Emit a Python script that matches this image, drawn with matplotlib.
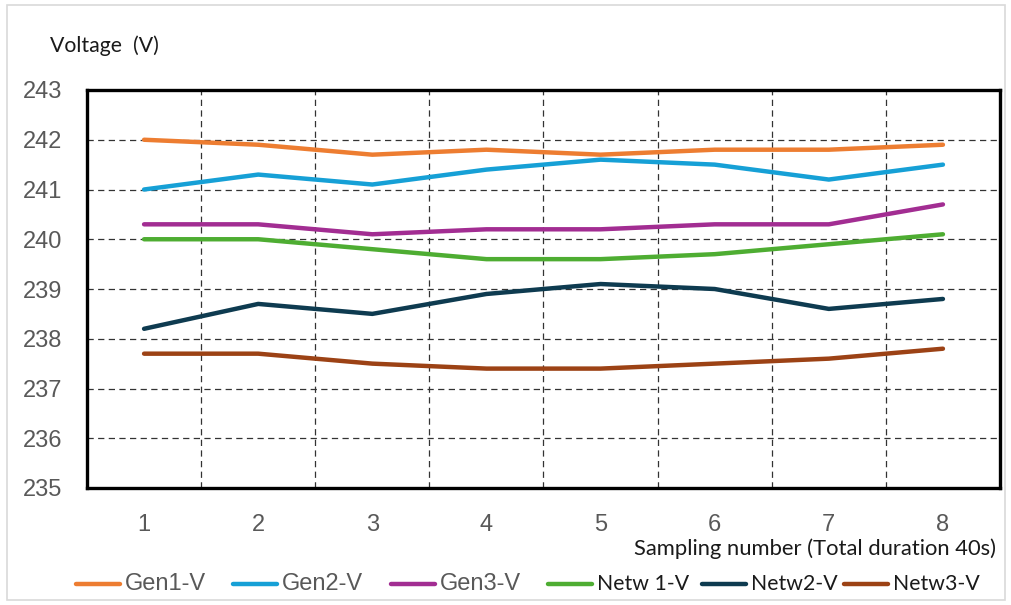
import matplotlib
matplotlib.use("Agg")
import matplotlib.pyplot as plt
from matplotlib.lines import Line2D
from matplotlib.patches import Rectangle
from matplotlib.ticker import FixedLocator, NullFormatter

# Sampling points and measured voltages
samples = [1, 2, 3, 4, 5, 6, 7, 8]
gen1_v = [242.0, 241.9, 241.7, 241.8, 241.7, 241.8, 241.8, 241.9]
gen2_v = [241.0, 241.3, 241.1, 241.4, 241.6, 241.5, 241.2, 241.5]
gen3_v = [240.3, 240.3, 240.1, 240.2, 240.2, 240.3, 240.3, 240.7]
netw1_v = [240.0, 240.0, 239.8, 239.6, 239.6, 239.7, 239.9, 240.1]
netw2_v = [238.2, 238.7, 238.5, 238.9, 239.1, 239.0, 238.6, 238.8]
netw3_v = [237.7, 237.7, 237.5, 237.4, 237.4, 237.5, 237.6, 237.8]

series_labels = ["Gen1-V", "Gen2-V", "Gen3-V", "Netw 1-V", "Netw2-V", "Netw3-V"]
series_values = [gen1_v, gen2_v, gen3_v, netw1_v, netw2_v, netw3_v]
series_colors = ["#ED7D31", "#16A0D6", "#A22D92", "#4EAD32", "#0E3B50", "#9C4215"]

y_ticks = [235, 236, 237, 238, 239, 240, 241, 242, 243]

W, H = 1011, 605
fig = plt.figure(figsize=(W / 100, H / 100), dpi=100)
fig.patch.set_facecolor("white")

# light outer frame
fig.add_artist(Rectangle((7 / W, 5 / H), (1005 - 7) / W, (600 - 5) / H,
                         transform=fig.transFigure, fill=False,
                         edgecolor="#D9D9D9", linewidth=1.2))

ax = fig.add_axes([87 / W, 1 - 488 / H, (1000 - 87) / W, (488 - 90) / H])

for vals, color in zip(series_values, series_colors):
    ax.plot(samples, vals, color=color, linewidth=3.2,
            solid_capstyle="round", solid_joinstyle="round", zorder=3)

ax.set_xlim(0.5, 8.5)
ax.set_ylim(y_ticks[0], y_ticks[-1])
ax.set_yticks(y_ticks)
ax.set_xticks(samples)
ax.xaxis.set_minor_locator(FixedLocator([s + 0.5 for s in samples[:-1]]))
ax.xaxis.set_minor_formatter(NullFormatter())

grid_style = dict(color="#333333", linestyle=(0, (5, 3.5)), linewidth=0.9)
ax.grid(True, axis="y", which="major", **grid_style)
ax.grid(True, axis="x", which="minor", **grid_style)
ax.grid(False, axis="x", which="major")

ax.tick_params(axis="both", which="both", length=0)
ax.tick_params(axis="y", pad=18, labelsize=17, labelcolor="#595959")
ax.tick_params(axis="x", pad=19, labelsize=17, labelcolor="#595959")
for lab in ax.get_xticklabels() + ax.get_yticklabels():
    lab.set_fontfamily("Liberation Sans")

for sp in ax.spines.values():
    sp.set_color("black")
    sp.set_linewidth(2.4)

fig.text(50 / W, 1 - 46 / H, "Voltage  (V)", fontsize=15.3, family="Lato",
         color="#1A1A1A", ha="left", va="center")
fig.text(996 / W, 1 - 549 / H, "Sampling number (Total duration 40s)", fontsize=15.8,
         family="Lato", color="#1A1A1A", ha="right", va="center")

# legend row
handle_x = [76, 233, 391, 548, 702, 844]
legend_y = 1 - 584 / H
for hx, label, color in zip(handle_x, series_labels, series_colors):
    fig.add_artist(Line2D([hx / W, (hx + 44) / W], [legend_y, legend_y],
                          transform=fig.transFigure, color=color, linewidth=3.2,
                          solid_capstyle="round"))
    is_gen = label.startswith("Gen")
    fig.text((hx + 49) / W, legend_y, label, fontsize=17 if is_gen else 15.3,
             family="Liberation Sans" if is_gen else "Lato",
             color="#595959" if is_gen else "#1A1A1A", ha="left", va="center")

fig.savefig("out.png", dpi=100, facecolor="white")
